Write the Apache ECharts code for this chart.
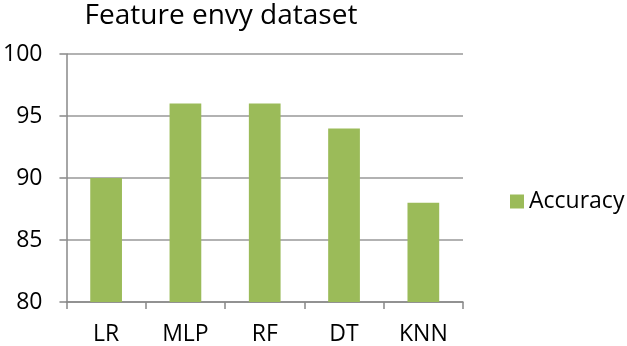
<!DOCTYPE html>
<html><head><meta charset="utf-8">
<script src="https://cdn.jsdelivr.net/npm/echarts@6/dist/echarts.min.js"></script>
<style>html,body{margin:0;padding:0;background:#fff}#c{width:627px;height:346px}</style>
</head><body><div id="c"></div>
<script>
const categories = ['LR', 'MLP', 'RF', 'DT', 'KNN'];
const accuracy = [90, 96, 96, 94, 88];
const seriesName = 'Accuracy';
const titleText = 'Feature envy dataset';

const chart = echarts.init(document.getElementById('c'), null, {renderer: 'canvas'});
const font = 'Open Sans';
chart.setOption({
  animation: false,
  title: {text: titleText, left: 216, top: -3, textAlign: 'center',
    textStyle: {fontFamily: font, fontSize: 28, fontWeight: 'normal', color: '#000'}},
  legend: {data: [seriesName], left: 505, top: 185, itemWidth: 14, itemHeight: 14, itemGap: 9,
    icon: 'rect', textStyle: {fontFamily: font, fontSize: 23, color: '#000'}},
  grid: {left: 65, top: 54, width: 398, height: 249, containLabel: false},
  xAxis: {type: 'category', data: categories,
    axisLine: {lineStyle: {color: '#888', width: 1.5}},
    axisTick: {show: true, length: 7, lineStyle: {color: '#888', width: 1.5}},
    axisLabel: {fontFamily: font, fontSize: 23, color: '#000', margin: 21}},
  yAxis: {type: 'value', min: 80, max: 100, interval: 5,
    axisLine: {show: true, lineStyle: {color: '#888', width: 1.5}},
    axisTick: {show: true, length: 7, lineStyle: {color: '#888', width: 1.5}},
    splitLine: {lineStyle: {color: '#999', width: 1.5}},
    axisLabel: {fontFamily: font, fontSize: 23, color: '#000', margin: 24}},
  series: [{name: seriesName, type: 'bar', data: accuracy, barCategoryGap: '60%',
    itemStyle: {color: '#9BBB59'}}]
});
</script></body></html>
